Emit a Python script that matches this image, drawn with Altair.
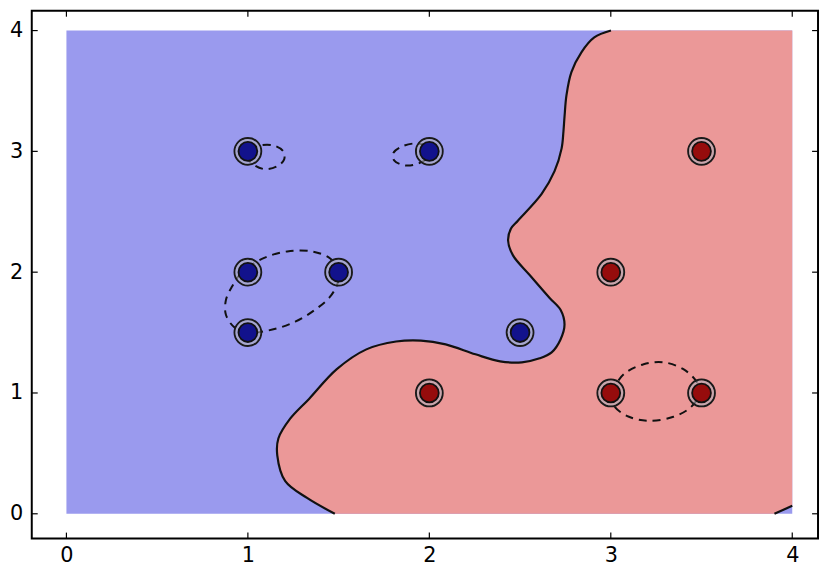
import altair as alt
import pandas as pd

# ---- data ----
blue_x = [1.0, 2.0, 1.0, 1.5, 1.0, 2.5]
blue_y = [3.0, 3.0, 2.0, 2.0, 1.5, 1.5]
red_x = [3.5, 3.0, 2.0, 3.0, 3.5]
red_y = [3.0, 2.0, 1.0, 1.0, 1.0]

# decision boundary (level 0), from bottom to top
bnd_x = [1.479, 1.326, 1.206, 1.162, 1.168, 1.233, 1.337, 1.490, 1.653, 1.817, 1.954,
         2.090, 2.254, 2.390, 2.510, 2.608, 2.674, 2.723, 2.745, 2.723, 2.663, 2.554,
         2.461, 2.434, 2.450, 2.488, 2.619, 2.690, 2.729, 2.739, 2.745, 2.756, 2.783,
         2.838, 2.909, 3.001]
bnd_y = [0.000, 0.131, 0.270, 0.484, 0.623, 0.787, 0.951, 1.197, 1.361, 1.426, 1.434,
         1.402, 1.320, 1.262, 1.254, 1.287, 1.336, 1.443, 1.566, 1.689, 1.787, 1.975,
         2.139, 2.262, 2.361, 2.426, 2.648, 2.836, 3.025, 3.164, 3.287, 3.467, 3.656,
         3.820, 3.943, 4.000]
corner_x = [4.0, 3.902]
corner_y = [0.066, 0.0]
# outline of the red region past the boundary (corners repeated so the curve stays straight there)
edge_x = [3.001, 4.0, 4.0, 4.0, 4.0, 3.902, 3.902]
edge_y = [4.000, 4.0, 4.0, 0.066, 0.066, 0.0, 0.0]

# margins (levels -1 / +1)
loopA_x = [1.010, 1.064, 1.141, 1.195, 1.200, 1.162, 1.097, 1.037, 0.999, 1.010]
loopA_y = [3.016, 3.049, 3.049, 3.000, 2.934, 2.877, 2.852, 2.885, 2.943, 3.016]
loopB_x = [1.981, 1.926, 1.850, 1.801, 1.806, 1.861, 1.926, 1.981, 2.003, 1.981]
loopB_y = [3.049, 3.066, 3.041, 2.984, 2.926, 2.885, 2.893, 2.934, 2.992, 3.049]
loopC_x = [0.944, 1.010, 1.097, 1.217, 1.353, 1.452, 1.501, 1.495, 1.452, 1.370, 1.261,
           1.135, 1.010, 0.928, 0.879, 0.879, 0.911, 0.944]
loopC_y = [1.959, 2.049, 2.123, 2.172, 2.172, 2.115, 2.016, 1.910, 1.795, 1.689, 1.590,
           1.525, 1.500, 1.541, 1.648, 1.770, 1.877, 1.959]
loopD_x = [3.001, 3.072, 3.181, 3.291, 3.400, 3.471, 3.493, 3.443, 3.345, 3.209, 3.100,
           3.018, 3.001]
loopD_y = [1.008, 1.156, 1.238, 1.254, 1.197, 1.098, 1.008, 0.885, 0.803, 0.770, 0.803,
           0.893, 1.008]

ticks = [0, 1, 2, 3, 4]

# ---- tables ----
X_DOM = [-0.191, 4.142]
Y_DOM = [-0.205, 4.164]
W, H = 794, 533

sx = alt.Scale(domain=X_DOM, nice=False, zero=False)
sy = alt.Scale(domain=Y_DOM, nice=False, zero=False)

poly_x = bnd_x + edge_x
poly_y = bnd_y + edge_y
poly = pd.DataFrame({"x": poly_x, "y": poly_y, "i": list(range(len(poly_x)))})

bline = pd.concat([
    pd.DataFrame({"x": bnd_x, "y": bnd_y, "i": list(range(len(bnd_x))), "g": "main"}),
    pd.DataFrame({"x": corner_x, "y": corner_y, "i": list(range(len(corner_x))), "g": "corner"}),
])

loops = pd.concat([
    pd.DataFrame({"x": lx, "y": ly, "i": list(range(len(lx))), "g": name})
    for name, lx, ly in [("A", loopA_x, loopA_y), ("B", loopB_x, loopB_y),
                         ("C", loopC_x, loopC_y), ("D", loopD_x, loopD_y)]
])

pts = pd.concat([
    pd.DataFrame({"x": blue_x, "y": blue_y, "c": "blue"}),
    pd.DataFrame({"x": red_x, "y": red_y, "c": "red"}),
])

bg = pd.DataFrame({"x": [0.0], "x2": [4.0], "y": [0.0], "y2": [4.0]})
tk = pd.DataFrame({"v": ticks})

x_axis = alt.Axis(values=ticks, format="d", ticks=False, domain=False, grid=False,
                  labelFontSize=21, labelFont="DejaVu Sans", labelColor="black",
                  labelPadding=6, title=None)
y_axis = alt.Axis(values=ticks, format="d", ticks=False, domain=False, grid=False,
                  labelFontSize=21, labelFont="DejaVu Sans", labelColor="black",
                  labelPadding=9, title=None)

background = alt.Chart(bg).mark_rect(color="#9a9aee").encode(
    x=alt.X("x:Q", scale=sx, axis=x_axis), x2="x2", y=alt.Y("y:Q", scale=sy, axis=y_axis), y2="y2")

red_region = alt.Chart(poly).mark_line(fill="#eb9898", stroke=None, strokeWidth=0,
                                       interpolate="catmull-rom").encode(
    x=alt.X("x:Q", scale=sx), y=alt.Y("y:Q", scale=sy), order="i:Q")

boundary = alt.Chart(bline).mark_line(color="#111111", strokeWidth=2.2,
                                      interpolate="catmull-rom").encode(
    x=alt.X("x:Q", scale=sx), y=alt.Y("y:Q", scale=sy), order="i:Q", detail="g:N")

margins = alt.Chart(loops).mark_line(color="#111111", strokeWidth=2, strokeDash=[8, 6],
                                     interpolate="catmull-rom").encode(
    x=alt.X("x:Q", scale=sx), y=alt.Y("y:Q", scale=sy), order="i:Q", detail="g:N")

ring_outer = alt.Chart(pts).mark_point(shape="circle", size=729, filled=False,
                                       stroke="#1a1a1a", strokeWidth=2, opacity=1).encode(
    x=alt.X("x:Q", scale=sx), y=alt.Y("y:Q", scale=sy))
ring_mid = alt.Chart(pts).mark_point(shape="circle", size=529, filled=False,
                                     stroke="#b0b0bc", strokeWidth=2.2, opacity=0.6).encode(
    x=alt.X("x:Q", scale=sx), y=alt.Y("y:Q", scale=sy))
dots = alt.Chart(pts).mark_point(shape="circle", size=361, filled=True,
                                 stroke="#111111", strokeWidth=1.8, opacity=1).encode(
    x=alt.X("x:Q", scale=sx), y=alt.Y("y:Q", scale=sy),
    fill=alt.Fill("c:N", scale=alt.Scale(domain=["blue", "red"], range=["#12128c", "#960c0c"]),
                  legend=None))

tick_style = dict(color="black", strokeWidth=1.2)
t_left = alt.Chart(tk).mark_rule(**tick_style).encode(
    y=alt.Y("v:Q", scale=sy), x=alt.value(0), x2=alt.value(6))
t_right = alt.Chart(tk).mark_rule(**tick_style).encode(
    y=alt.Y("v:Q", scale=sy), x=alt.value(W), x2=alt.value(W - 6))
t_top = alt.Chart(tk).mark_rule(**tick_style).encode(
    x=alt.X("v:Q", scale=sx), y=alt.value(0), y2=alt.value(6))
t_bottom = alt.Chart(tk).mark_rule(**tick_style).encode(
    x=alt.X("v:Q", scale=sx), y=alt.value(H), y2=alt.value(H - 6))

chart = alt.layer(
    background, red_region, boundary, margins, ring_outer, ring_mid, dots,
    t_left, t_right, t_top, t_bottom
).properties(
    width=W, height=H,
    autosize=alt.AutoSizeParams(type="none"),
    padding={"left": 24, "top": 0, "right": 2, "bottom": 31},
    background="white",
).configure_view(stroke="black", strokeWidth=2)

chart.save("out.html", embed_options={"renderer": "svg", "actions": False})
